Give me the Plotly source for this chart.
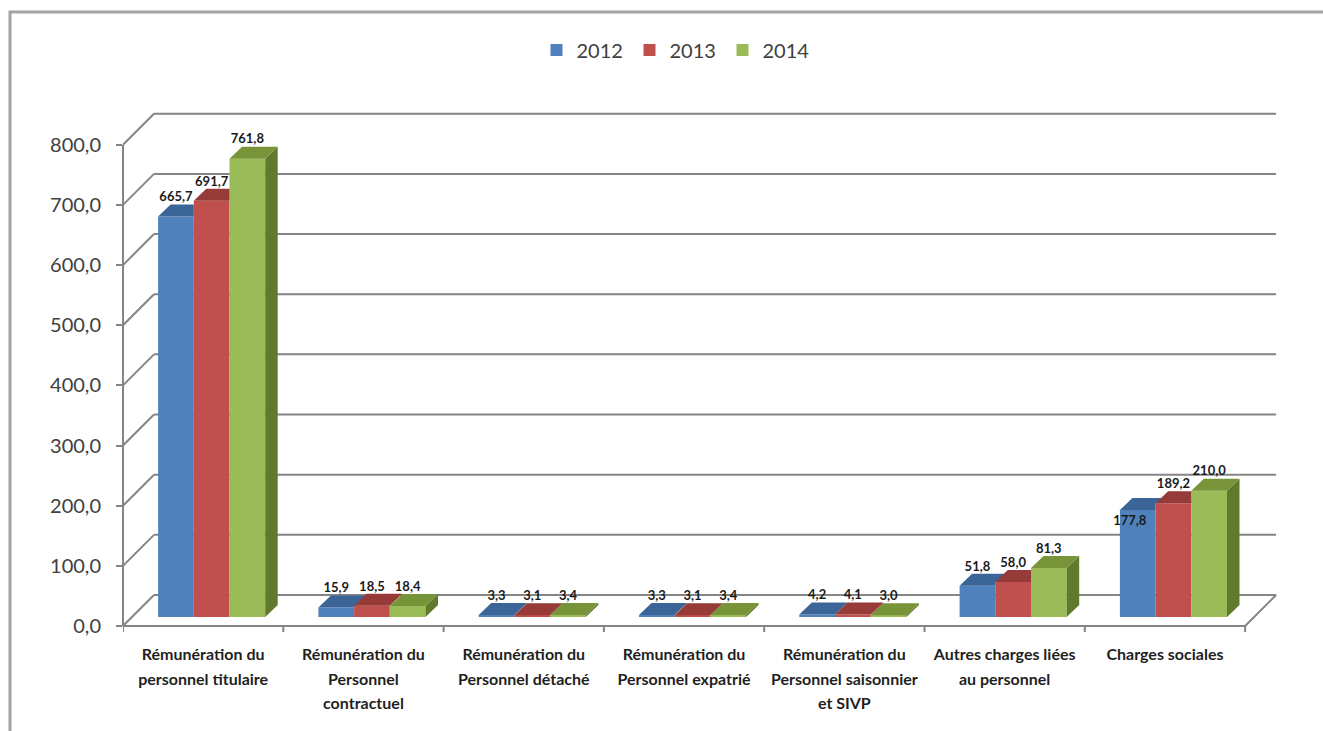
import plotly.graph_objects as go

# ---- data -----------------------------------------------------------------
categories = [
    ["Rémunération du", "personnel titulaire"],
    ["Rémunération du", "Personnel", "contractuel"],
    ["Rémunération du", "Personnel détaché"],
    ["Rémunération du", "Personnel expatrié"],
    ["Rémunération du", "Personnel saisonnier", "et SIVP"],
    ["Autres charges liées", "au personnel"],
    ["Charges sociales"],
]
years = ["2012", "2013", "2014"]
values_2012 = [665.7, 15.9, 3.3, 3.3, 4.2, 51.8, 177.8]
values_2013 = [691.7, 18.5, 3.1, 3.1, 4.1, 58.0, 189.2]
values_2014 = [761.8, 18.4, 3.4, 3.4, 3.0, 81.3, 210.0]
y_ticks = [0, 100, 200, 300, 400, 500, 600, 700, 800]

series = [values_2012, values_2013, values_2014]

# ---- styling ----------------------------------------------------------------
FRONT = ["#4f81bd", "#c0504d", "#9bbb59"]
TOP = ["#3b6497", "#973b39", "#779439"]
SIDE = ["#2f507a", "#7a2f2d", "#5f7a2d"]
GRID = "#858585"
FONT = "Lato, Roboto, sans-serif"

# Pixel layout of the plotting area
W, H = 1323, 731
L_PX, R_PX, T_PX, B_PX = 123, 1280, 108, 643
ZERO_PX = 626            # pixel row of value 0 on the front plane
PX_PER_CAT = 160.3       # horizontal pixels per category
PX_PER_UNIT = 0.6016     # vertical pixels per value unit


def ux(px):
    return px / PX_PER_CAT


def uy(px):
    return px / PX_PER_UNIT


# oblique projection offsets (in data units)
WALL_DX, WALL_DY = ux(31), uy(31)        # depth of back wall
BAR_W = ux(35.7)                          # width of one bar
BAR_SHIFT = ux(8.5)                       # bars sit slightly behind front plane
BAR_LIFT = uy(9)
DEPTH_X, DEPTH_Y = ux(12.5), uy(12)       # depth of the bar boxes
SLOPE = DEPTH_Y / DEPTH_X

x_min = -0.5
x_max = -0.5 + (R_PX - L_PX) / PX_PER_CAT
y_min = -(B_PX - ZERO_PX) / PX_PER_UNIT
y_max = (ZERO_PX - T_PX) / PX_PER_UNIT
n_cat = len(categories)
idx = list(range(n_cat))

fig = go.Figure()

# front faces of the boxes
for j, (year, vals) in enumerate(zip(years, series)):
    fig.add_trace(go.Bar(
        x=idx, y=vals, base=BAR_LIFT, name=year,
        width=BAR_W, offset=BAR_SHIFT - 1.5 * BAR_W + j * BAR_W,
        marker=dict(color=FRONT[j], line=dict(width=0)),
        hovertemplate=year + " : %{y:.1f}<extra></extra>",
    ))

# top and side faces (only the parts not hidden by the neighbouring box)
for j, vals in enumerate(series):
    side_x, side_y, top_x, top_y = [], [], [], []
    for i, v in enumerate(vals):
        xl = i + BAR_SHIFT - 1.5 * BAR_W + j * BAR_W
        xr = xl + BAR_W
        top = BAR_LIFT + v
        nxt = BAR_LIFT + series[j + 1][i] if j + 1 < len(series) else None

        c = top if nxt is None else min(max(nxt, top), top + DEPTH_Y)
        pts = [(xl, top), (xr, top), (xr, c), (xr + (c - top) / SLOPE, c),
               (xr + DEPTH_X, top + DEPTH_Y), (xl + DEPTH_X, top + DEPTH_Y)]
        top_x += [p[0] for p in pts] + [pts[0][0], None]
        top_y += [p[1] for p in pts] + [pts[0][1], None]

        lo = BAR_LIFT if nxt is None else max(BAR_LIFT, nxt)
        if lo < top:
            pts = [(xr, lo), (xr, top), (xr + DEPTH_X, top + DEPTH_Y),
                   (xr + DEPTH_X, lo + DEPTH_Y)]
            side_x += [p[0] for p in pts] + [pts[0][0], None]
            side_y += [p[1] for p in pts] + [pts[0][1], None]

    if side_x:
        fig.add_trace(go.Scatter(
            x=side_x, y=side_y, mode="lines", fill="toself",
            fillcolor=SIDE[j], line=dict(width=0), showlegend=False,
            hoverinfo="skip"))
    fig.add_trace(go.Scatter(
        x=top_x, y=top_y, mode="lines", fill="toself",
        fillcolor=TOP[j], line=dict(width=0), showlegend=False,
        hoverinfo="skip"))

# value labels
label_override = {(0, 6): (-0.05, -uy(5), "bottom center")}
for j, vals in enumerate(series):
    lx, ly, pos, txt = [], [], [], []
    for i, v in enumerate(vals):
        xc = i + BAR_SHIFT - 1.5 * BAR_W + (j + 0.5) * BAR_W
        if (j, i) in label_override:
            sx, sy, p = label_override[(j, i)]
            lx.append(xc + sx)
            ly.append(BAR_LIFT + v + sy)
            pos.append(p)
        else:
            lx.append(xc)
            ly.append(BAR_LIFT + v + DEPTH_Y)
            pos.append("top center")
        txt.append(f"{v:.1f}".replace(".", ","))
    fig.add_trace(go.Scatter(
        x=lx, y=ly, mode="text", text=txt, textposition=pos,
        textfont=dict(family=FONT, size=13, color="#1a1a1a", weight="bold"),
        showlegend=False, hoverinfo="skip"))

# ---- walls, floor and axis decorations --------------------------------------
shapes = []
line = dict(color=GRID, width=2)
for v in y_ticks:
    # back wall gridline
    shapes.append(dict(type="line", xref="x", yref="y", layer="below",
                       x0=-0.5 + WALL_DX, x1=n_cat - 0.5 + WALL_DX,
                       y0=v + WALL_DY, y1=v + WALL_DY, line=line))
    # side wall diagonal
    shapes.append(dict(type="line", xref="x", yref="y", layer="below",
                       x0=-0.5, x1=-0.5 + WALL_DX,
                       y0=v, y1=v + WALL_DY, line=line))
# front vertical axis
shapes.append(dict(type="line", xref="paper", yref="y", layer="below",
                   x0=0, x1=0, y0=0, y1=y_ticks[-1], line=line))
# floor front edge and right edge
shapes.append(dict(type="line", xref="x", yref="y", layer="below",
                   x0=-0.5, x1=n_cat - 0.5, y0=0, y1=0, line=line))
shapes.append(dict(type="line", xref="x", yref="y", layer="below",
                   x0=n_cat - 0.5, x1=n_cat - 0.5 + WALL_DX, y0=0, y1=WALL_DY,
                   line=line))
# category separators
for k in range(n_cat + 1):
    shapes.append(dict(type="line", xref="x", yref="y", layer="below",
                       x0=-0.5 + k, x1=-0.5 + k, y0=0, y1=-uy(6), line=line))
# outer chart frame
pw, ph = R_PX - L_PX, B_PX - T_PX
shapes.append(dict(type="rect", xref="paper", yref="paper", layer="above",
                   x0=(10 - L_PX) / pw, x1=(W + 20 - L_PX) / pw,
                   y0=(B_PX - H - 20) / ph, y1=(B_PX - 12) / ph,
                   line=dict(color="#a3a3a3", width=3)))

# category labels: small glyphs on a taller line pitch
ticktext = ["<br>".join(f"<span style='font-size:16px'>{s}</span>" for s in c)
            for c in categories]

fig.update_layout(
    width=W, height=H, autosize=False,
    margin=dict(l=L_PX, r=W - R_PX, t=T_PX, b=H - B_PX, pad=0),
    paper_bgcolor="white", plot_bgcolor="rgba(0,0,0,0)",
    barmode="overlay", separators=", ",
    shapes=shapes,
    legend=dict(orientation="h", x=(676 - L_PX) / pw, xanchor="center",
                y=(B_PX - 50) / ph, yanchor="middle",
                font=dict(family=FONT, size=20, color="#404040"),
                itemwidth=30, entrywidth=48, entrywidthmode="pixels",
                traceorder="normal"),
    xaxis=dict(range=[x_min, x_max], tickmode="array", tickvals=idx,
               ticktext=ticktext, showgrid=False, zeroline=False,
               showline=False, ticks="", ticklabelstandoff=-3,
               tickfont=dict(family=FONT, size=19, color="#1f1f1f",
                             weight="bold")),
    yaxis=dict(range=[y_min, y_max], tickmode="array", tickvals=y_ticks,
               tickformat=".1f", showgrid=False, zeroline=False,
               showline=False, ticks="outside", ticklen=6, tickwidth=2,
               tickcolor=GRID, ticklabelstandoff=11,
               tickfont=dict(family=FONT, size=20, color="#404040")),
)

fig.write_html("out.html")
